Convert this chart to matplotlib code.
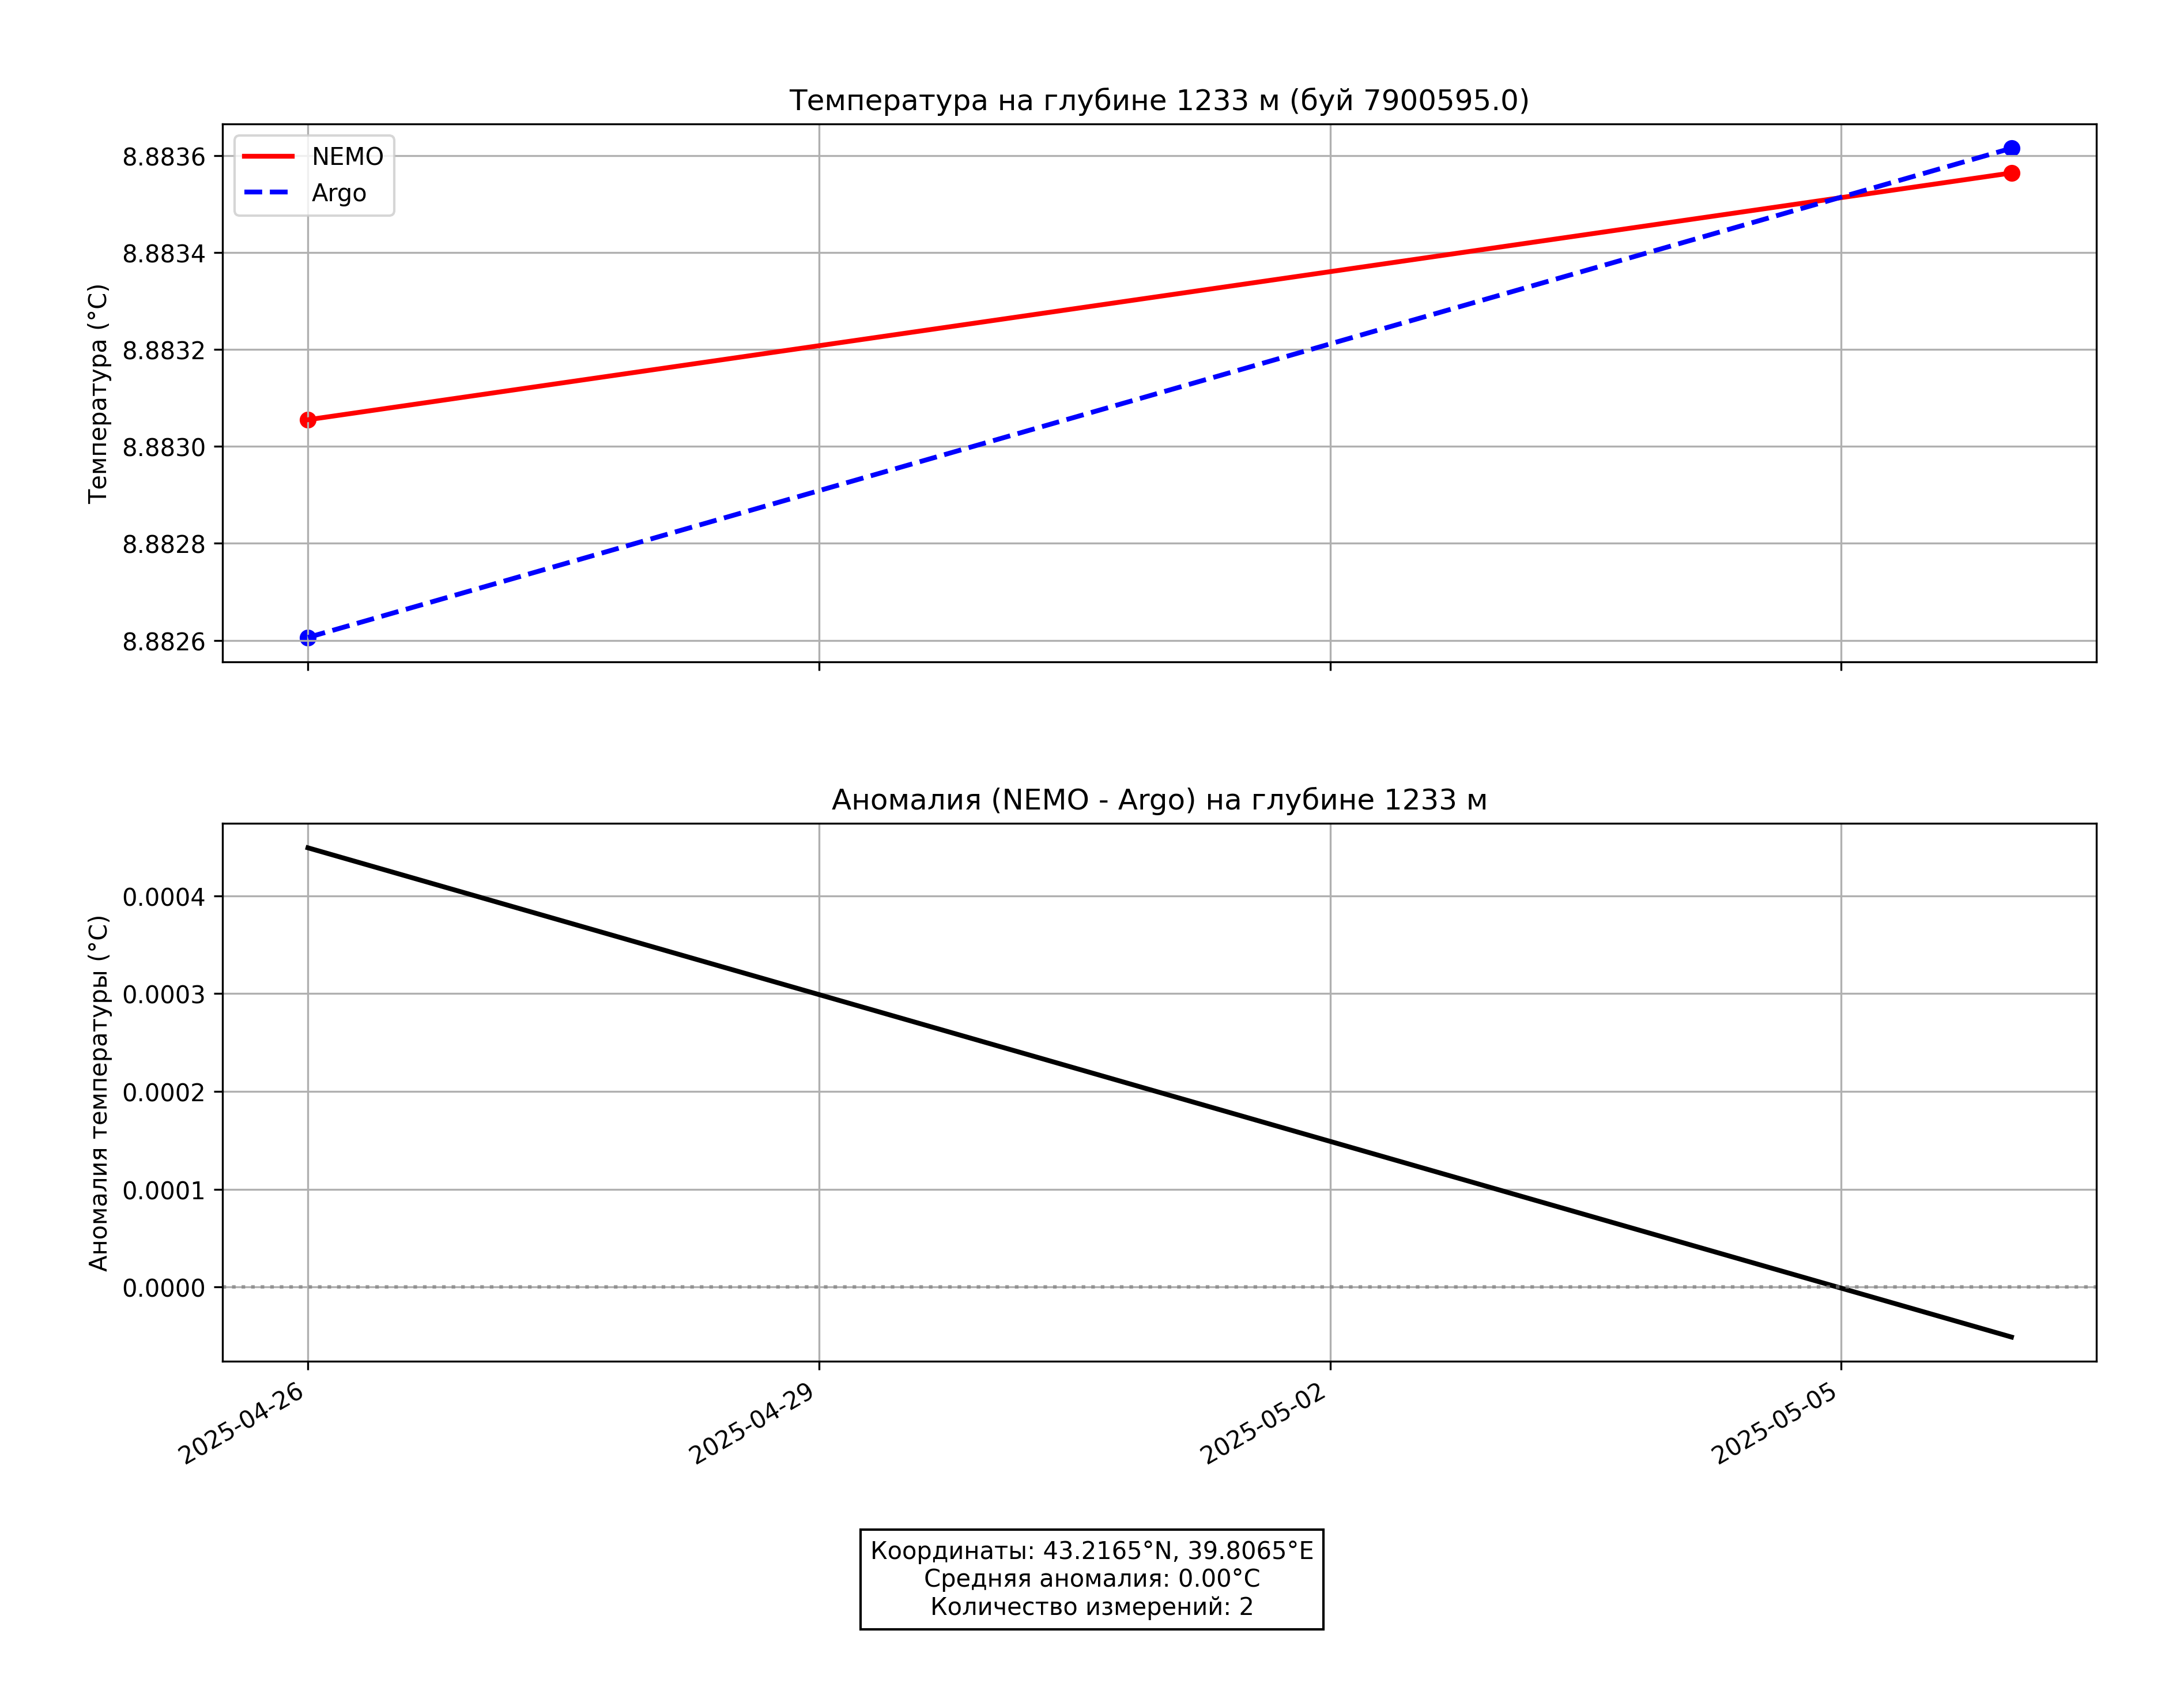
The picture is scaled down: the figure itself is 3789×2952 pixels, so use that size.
import matplotlib
matplotlib.use('Agg')
import matplotlib.pyplot as plt
import matplotlib.dates as mdates
import pandas as pd
import numpy as np

dates = pd.to_datetime(['2025-04-26', '2025-05-06'])
nemo = np.array([8.883055, 8.883564])
argo = np.array([8.882606, 8.883615])
anomaly = nemo - argo
tick_dates = pd.to_datetime(['2025-04-26', '2025-04-29', '2025-05-02', '2025-05-05'])

fig, (ax1, ax2) = plt.subplots(2, 1, figsize=(12.63, 9.843), sharex=True)
plt.subplots_adjust(left=0.102, right=0.96, top=0.927, bottom=0.264, hspace=0.3)

ax1.plot(dates, nemo, 'r-', linewidth=2, label='NEMO')
ax1.plot(dates, argo, 'b--', linewidth=2, label='Argo')
ax1.scatter(dates, nemo, color='red')
ax1.scatter(dates, argo, color='blue')
ax1.set_title('Температура на глубине 1233 м (буй 7900595.0)')
ax1.set_ylabel('Температура (°C)')
ax1.legend(loc='upper left')
ax1.grid(True)

ax2.plot(dates, anomaly, 'k-', linewidth=2)
ax2.axhline(0, color='gray', linestyle=':', alpha=0.7)
ax2.set_title('Аномалия (NEMO - Argo) на глубине 1233 м')
ax2.set_ylabel('Аномалия температуры (°C)')
ax2.grid(True)
ax2.set_xticks(tick_dates)
ax2.xaxis.set_major_formatter(mdates.DateFormatter('%Y-%m-%d'))

fig.autofmt_xdate()

info = ('Координаты: 43.2165°N, 39.8065°E\n'
        'Средняя аномалия: %.2f°C\n'
        'Количество измерений: %d' % (anomaly.mean(), len(dates)))
fig.text(0.5, 0.072, info, ha='center', va='center', fontsize=10,
         bbox=dict(facecolor='white', edgecolor='black'))

plt.savefig('out.png', dpi=300)
